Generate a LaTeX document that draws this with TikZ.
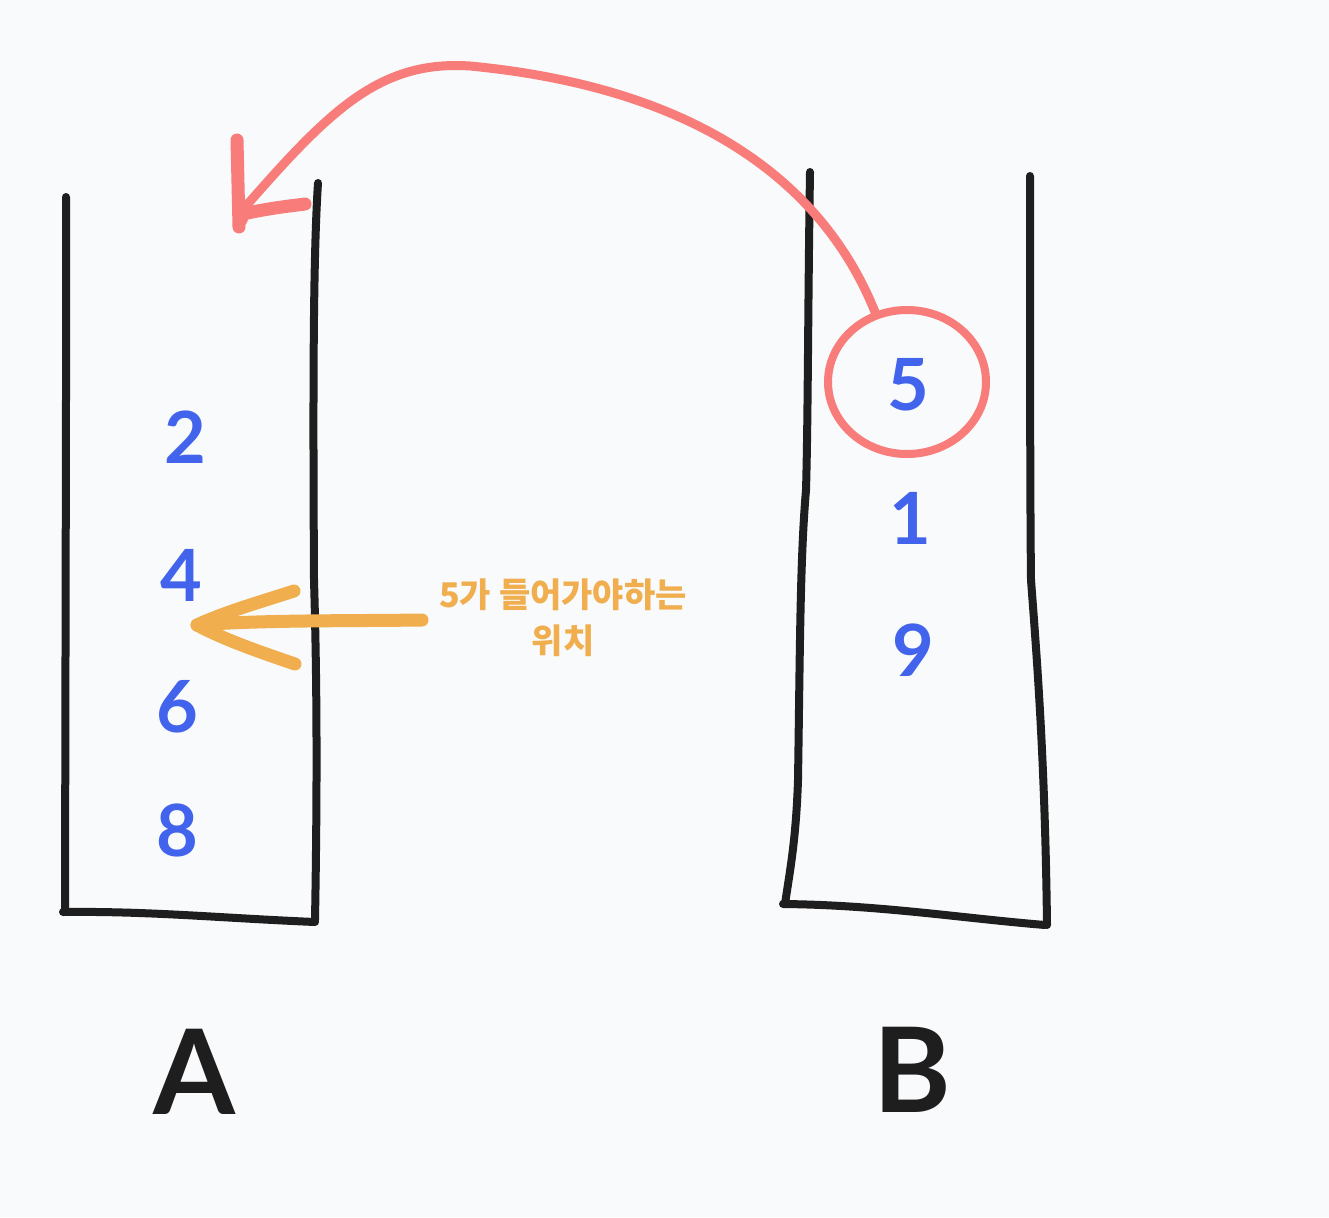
\documentclass[tikz,border=0pt]{standalone}
\usepackage{fontspec}
\usetikzlibrary{shapes.geometric}
\setmainfont{Lato}
\newfontfamily\krfont{Noto Sans CJK KR}
\definecolor{bgc}{HTML}{F8FAFC}
\definecolor{inkc}{HTML}{1E1E1E}
\definecolor{bluec}{HTML}{4263EB}
\definecolor{redc}{HTML}{F87C7A}
\definecolor{orc}{HTML}{F0AE4E}
\begin{document}
\begin{tikzpicture}[x=1pt,y=-1pt,
  wall/.style={draw=inkc,line width=8pt,line cap=round,line join=round},
  digit/.style={text=bluec,font=\fontsize{72}{72}\selectfont\bfseries,inner sep=0pt},
  label/.style={text=inkc,font=\fontsize{118}{118}\selectfont\bfseries,inner sep=0pt},
  redline/.style={draw=redc,line width=9pt,line cap=round,line join=round},
  redhead/.style={draw=redc,line width=13pt,line cap=round,line join=round},
  orline/.style={draw=orc,line width=13pt,line cap=round,line join=round},
  note/.style={text=orc,font=\krfont\fontsize{34}{46}\selectfont\bfseries,align=center,inner sep=0pt}]
\fill[bgc] (0,0) rectangle (1329,1217);
\useasboundingbox (0,0) rectangle (1329,1217);
% container A
\draw[wall] (66,197) -- (66,400) -- (65,912);
\draw[wall] (63,912) .. controls (150,911) and (220,918) .. (315,922);
\draw[wall] (318,183) .. controls (313,260) and (313,400) .. (314,580) .. controls (316,650) and (318,750) .. (315,920);
% container B
\draw[wall] (810,172) .. controls (808,300) and (808,420) .. (806,490) .. controls (800,560) and (800,650) .. (798,780) .. controls (796,840) and (790,870) .. (785,904);
\draw[wall] (783,904) .. controls (880,905) and (960,918) .. (1045,925);
\draw[wall] (1030,176) .. controls (1030,300) and (1030,500) .. (1031,580) .. controls (1037,660) and (1045,760) .. (1047,925);
% digits
\node[digit] (a2) at (185,437) {2};
\node[digit] (a4) at (181,575) {4};
\node[digit] (a6) at (177,707) {6};
\node[digit] (a8) at (177,830) {8};
\node[digit] (b5) at (908,385) {5};
\node[digit] (b1) at (910,518) {1};
\node[digit] (b9) at (913,650) {9};
% labels
\node[label] (la) at (194,1072) {A};
\node[label] (lb) at (912,1070) {B};
% red circle and arrow
\node[draw=redc,line width=8pt,ellipse,minimum width=158pt,minimum height=144pt,inner sep=0pt] (circ) at (907,382) {};
\coordinate (tip) at (246,206);
\draw[redline] (875,312) .. controls (830,200) and (720,90) .. (470,66) .. controls (380,60) and (330,110) .. (tip);
\draw[redhead] (237,140) -- (239,227);
\draw[redhead] (241,220) -- (tip);
\draw[redhead] (243,214) .. controls (270,208) and (290,206) .. (305,204);
% orange arrow
\node[note] (note) at (563,618) {5가 들어가야하는\\위치};
\coordinate (otip) at (197,625);
\draw[orline] (422,620) .. controls (350,621) and (260,620) .. (otip);
\draw[orline] (294,591) .. controls (260,602) and (225,612) .. (otip) .. controls (225,640) and (260,652) .. (295,664);
\end{tikzpicture}
\end{document}
